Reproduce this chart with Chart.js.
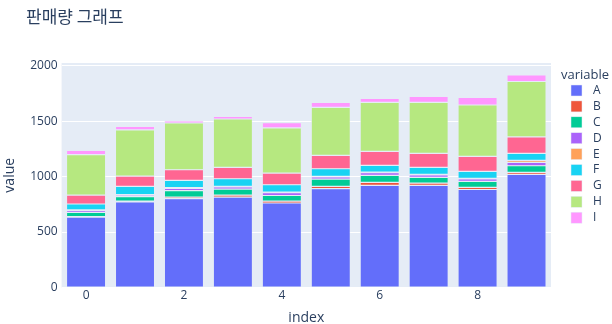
<!DOCTYPE html>
<html lang="ko">
<head>
  <meta charset="UTF-8" />
  <title>판매량 그래프</title>
  <script src="https://cdn.jsdelivr.net/npm/chart.js"></script>
  <style>
    html, body { margin: 0; padding: 0; background: #fff; }
    #wrap { width: 612px; height: 324px; position: relative; }
  </style>
</head>
<body>
  <div id="wrap"><canvas id="salesChart" width="612" height="324"></canvas></div>

  <script>
    // data
    const indexLabels = [0, 1, 2, 3, 4, 5, 6, 7, 8, 9];
    const seriesNames = ['A', 'B', 'C', 'D', 'E', 'F', 'G', 'H', 'I'];
    const A = [635, 771, 801, 816, 762, 891, 921, 921, 884, 1020];
    const B = [5, 8, 15, 18, 18, 21, 27, 21, 19, 18];
    const C = [37, 40, 57, 54, 50, 66, 63, 51, 54, 60];
    const D = [18, 15, 22, 19, 26, 19, 25, 22, 22, 31];
    const E = [5, 5, 5, 5, 5, 5, 5, 5, 5, 18];
    const F = [53, 73, 66, 69, 66, 69, 60, 63, 63, 63];
    const G = [81, 93, 96, 102, 105, 120, 126, 126, 135, 148];
    const H = [364, 416, 422, 437, 407, 434, 443, 461, 464, 500];
    const I = [38, 32, 18, 23, 47, 45, 36, 54, 69, 59];
    const yTicks = [0, 500, 1000, 1500, 2000];

    const seriesValues = [A, B, C, D, E, F, G, H, I];
    const colors = ['#636efa', '#EF553B', '#00cc96', '#ab63fa', '#FFA15A',
                    '#19d3f3', '#FF6692', '#B6E880', '#FF97FF'];
    const textColor = '#2a3f5f';

    // plot background + title + legend (plotly look)
    const plotlyLook = {
      id: 'plotlyLook',
      beforeDraw(chart) {
        const { ctx, chartArea: a } = chart;
        ctx.save();
        ctx.fillStyle = '#E5ECF6';
        ctx.fillRect(a.left, a.top, a.right - a.left, a.bottom - a.top);
        ctx.restore();
      },
      afterDraw(chart) {
        const ctx = chart.ctx;
        ctx.save();
        ctx.fillStyle = textColor;
        ctx.textBaseline = 'middle';
        ctx.font = '17px "Noto Sans CJK KR", "Open Sans", sans-serif';
        ctx.fillText('판매량 그래프', 26, 17);

        ctx.font = '13px "Open Sans", sans-serif';
        ctx.fillText('variable', 561, 75);
        ctx.font = '12px "Open Sans", sans-serif';
        seriesNames.forEach((name, i) => {
          const y = 90.5 + i * 15.9;
          ctx.fillStyle = colors[i];
          ctx.fillRect(571, y - 5.5, 11, 11);
          ctx.strokeStyle = '#E5ECF6';
          ctx.lineWidth = 0.5;
          ctx.strokeRect(571, y - 5.5, 11, 11);
          ctx.fillStyle = textColor;
          ctx.fillText(name, 593, y);
        });
        ctx.restore();
      }
    };

    new Chart(document.getElementById('salesChart'), {
      type: 'bar',
      data: {
        labels: indexLabels,
        datasets: seriesNames.map((name, i) => ({
          label: name,
          data: seriesValues[i],
          backgroundColor: colors[i],
          borderColor: '#E5ECF6',
          borderWidth: 0.6,
          borderSkipped: false,
          barPercentage: 0.8,
          categoryPercentage: 1
        }))
      },
      options: {
        responsive: false,
        animation: false,
        layout: { padding: { left: 0, right: 61, top: 63, bottom: 0 } },
        plugins: {
          legend: { display: false },
          title: { display: false },
          tooltip: { enabled: false }
        },
        scales: {
          x: {
            stacked: true,
            grid: { display: false, drawTicks: false },
            border: { display: false },
            ticks: {
              color: textColor,
              font: { size: 12, family: '"Open Sans", sans-serif' },
              padding: 1,
              maxRotation: 0,
              callback: function (val, idx) { return idx % 2 === 0 ? indexLabels[idx] : ''; }
            },
            title: {
              display: true,
              text: 'index',
              color: textColor,
              font: { size: 14, family: '"Open Sans", sans-serif' },
              padding: { top: 0, bottom: -2 }
            },
            afterFit(scale) { scale.height = 36.5; }
          },
          y: {
            stacked: true,
            min: 0,
            max: 2025,
            afterBuildTicks(scale) { scale.ticks = yTicks.map(v => ({ value: v })); },
            grid: { color: '#ffffff', lineWidth: 1, drawTicks: false },
            border: { display: false },
            ticks: {
              color: textColor,
              font: { size: 12, family: '"Open Sans", sans-serif' },
              padding: 4,
              callback: v => String(v)
            },
            title: {
              display: true,
              text: 'value',
              color: textColor,
              font: { size: 14, family: '"Open Sans", sans-serif' },
              padding: { top: 2, bottom: 0 }
            },
            afterFit(scale) { scale.width = 61.6; }
          }
        }
      },
      plugins: [plotlyLook]
    });
  </script>
</body>
</html>
